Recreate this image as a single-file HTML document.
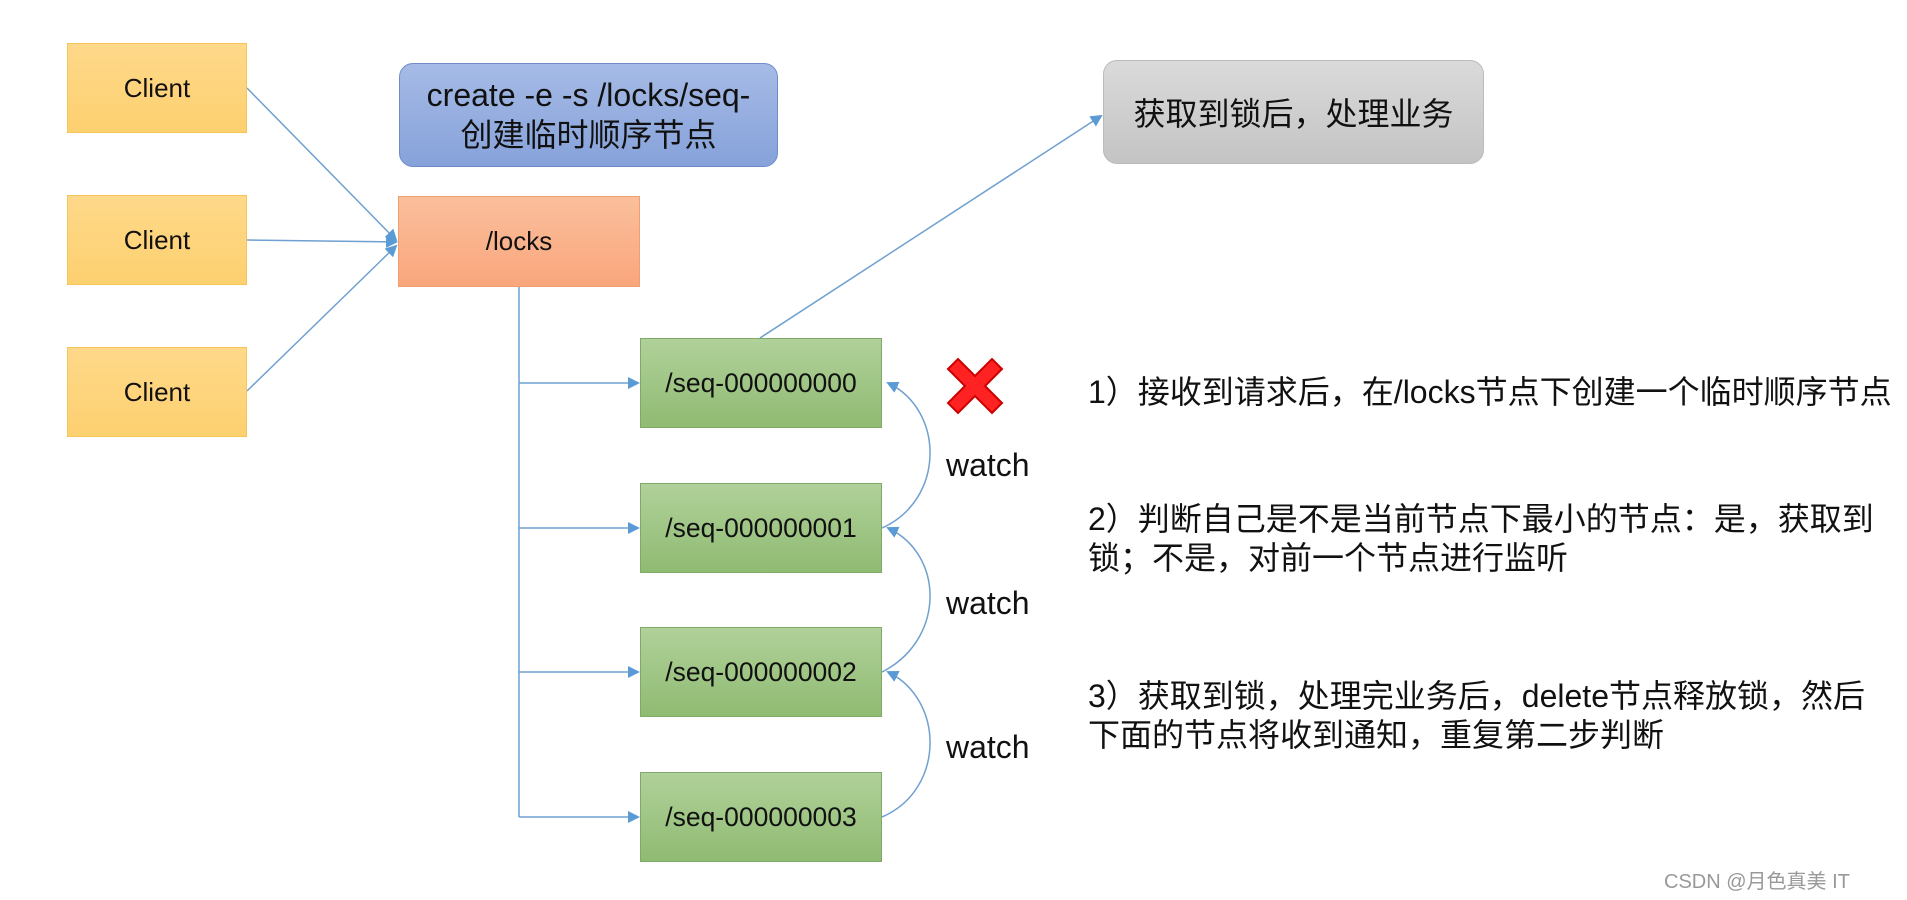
<!DOCTYPE html>
<html><head><meta charset="utf-8"><style>
body{margin:0;width:1907px;height:900px;background:#fff;position:relative;overflow:hidden;font-family:"Liberation Sans","Noto Sans CJK SC",sans-serif;}
.b{position:absolute;display:flex;align-items:center;justify-content:center;text-align:center;color:#111;box-sizing:border-box;}
.cl{left:67px;width:180px;height:90px;background:linear-gradient(#fed98a,#fdd070);border:1px solid #f5c55a;font-size:26px;}
.sq{left:640px;width:242px;height:90px;background:linear-gradient(#b0d19a,#90bb72);border:1px solid #80a868;font-size:26.5px;}
.t{position:absolute;font-size:32px;color:#111;white-space:nowrap;}
</style></head><body>
<svg width="1907" height="900" style="position:absolute;left:0;top:0">
<defs><marker id="a" markerWidth="12" markerHeight="12" refX="10" refY="6" orient="auto" markerUnits="userSpaceOnUse"><path d="M0,0 L12,6 L0,12 z" fill="#5b9bd5"/></marker></defs>
<g stroke="#6fa0d0" stroke-width="1.5" fill="none">
<line x1="247" y1="88" x2="396" y2="240" marker-end="url(#a)"/>
<line x1="247" y1="240" x2="396" y2="242" marker-end="url(#a)"/>
<line x1="247" y1="391" x2="396" y2="246" marker-end="url(#a)"/>
<line x1="519" y1="287" x2="519" y2="817"/>
<line x1="519" y1="383" x2="638" y2="383" marker-end="url(#a)"/>
<line x1="519" y1="528" x2="638" y2="528" marker-end="url(#a)"/>
<line x1="519" y1="672" x2="638" y2="672" marker-end="url(#a)"/>
<line x1="519" y1="817" x2="638" y2="817" marker-end="url(#a)"/>
<line x1="760" y1="338" x2="1101" y2="116" marker-end="url(#a)"/>
<path d="M882,528 C945,500 945,410 888,383" marker-end="url(#a)"/>
<path d="M882,672 C945,640 945,555 888,528" marker-end="url(#a)"/>
<path d="M882,817 C945,790 945,700 888,672" marker-end="url(#a)"/>
</g>
<g stroke="#c00" stroke-width="2" fill="#f22">
<path d="M948,369 l10,-10 l17,17 l17,-17 l10,10 l-17,17 l17,17 l-10,10 l-17,-17 l-17,17 l-10,-10 l17,-17 z"/>
</g>
</svg>
<div class="b cl" style="top:43px">Client</div>
<div class="b cl" style="top:195px">Client</div>
<div class="b cl" style="top:347px">Client</div>
<div class="b" style="left:399px;top:63px;width:379px;height:104px;border-radius:14px;background:linear-gradient(#a6bbe6,#86a2da);border:1px solid #6f8cc8;font-size:32px;line-height:40px">create -e -s /locks/seq-<br>创建临时顺序节点</div>
<div class="b" style="left:398px;top:196px;width:242px;height:91px;background:linear-gradient(#fbbf9c,#f9a67c);border:1px solid #f0a070;font-size:26px">/locks</div>
<div class="b" style="left:1103px;top:60px;width:381px;height:104px;border-radius:14px;background:linear-gradient(#dadada,#c4c4c4);border:1px solid #bbb;font-size:32px">获取到锁后，处理业务</div>
<div class="b sq" style="top:338px">/seq-000000000</div>
<div class="b sq" style="top:483px">/seq-000000001</div>
<div class="b sq" style="top:627px">/seq-000000002</div>
<div class="b sq" style="top:772px">/seq-000000003</div>
<div class="t" style="left:946px;top:447px">watch</div>
<div class="t" style="left:946px;top:585px">watch</div>
<div class="t" style="left:946px;top:729px">watch</div>
<div class="t" style="left:1088px;top:367px">1）接收到请求后，在/locks节点下创建一个临时顺序节点</div>
<div class="t" style="left:1088px;top:500px;line-height:39px">2）判断自己是不是当前节点下最小的节点：是，获取到<br>锁；不是，对前一个节点进行监听</div>
<div class="t" style="left:1088px;top:677px;line-height:39px">3）获取到锁，处理完业务后，delete节点释放锁，然后<br>下面的节点将收到通知，重复第二步判断</div>
<div class="t" style="left:1664px;top:865px;font-size:20px;color:#999">CSDN @月色真美 IT</div>
</body></html>
